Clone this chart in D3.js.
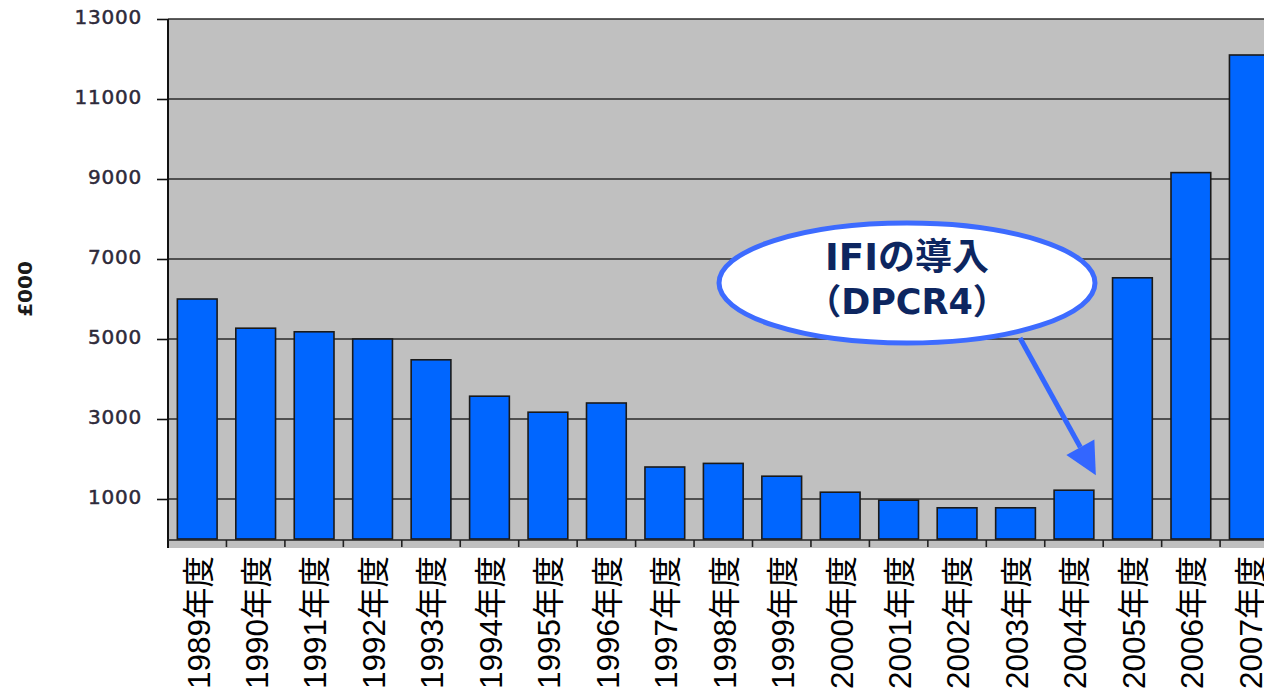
<!DOCTYPE html>
<html>
<head>
<meta charset="utf-8">
<script src="https://cdn.jsdelivr.net/npm/d3@7"></script>
<style>
  html, body { margin: 0; padding: 0; background: #ffffff; }
  svg { display: block; }
</style>
</head>
<body>
<svg id="chart" width="1264" height="692"></svg>
<script>
// ---- data ----
const categories = ["1989年度","1990年度","1991年度","1992年度","1993年度","1994年度","1995年度","1996年度","1997年度","1998年度","1999年度","2000年度","2001年度","2002年度","2003年度","2004年度","2005年度","2006年度","2007年度"];
const values = [6000, 5270, 5180, 5000, 4480, 3570, 3170, 3400, 1800, 1890, 1570, 1170, 970, 780, 780, 1220, 6530, 9160, 12100];
const yTicks = [1000, 3000, 5000, 7000, 9000, 11000, 13000];
const yTitle = "£000";
const calloutLines = ["IFIの導入", "（DPCR4）"];
const calloutTarget = "2004年度";

(function () {
// ---- layout ----
const svg = d3.select("#chart");
const plotLeft = 168, plotTop = 19, zeroY = 539, plotBottom = 548;
const band = 58.45;
const x = d3.scaleBand().domain(categories).range([plotLeft, plotLeft + band * categories.length]).paddingInner(0.32).paddingOuter(0.16);
const y = d3.scaleLinear().domain([0, 13000]).range([zeroY, plotTop]);

// plot background
svg.append("rect").attr("x", plotLeft).attr("y", plotTop).attr("width", 1264 - plotLeft).attr("height", plotBottom - plotTop).attr("fill", "#c0c0c0");

// gridlines
svg.append("g").selectAll("line").data(yTicks).join("line")
  .attr("x1", plotLeft).attr("x2", 1264)
  .attr("y1", d => y(d)).attr("y2", d => y(d))
  .attr("stroke", "#2a2a2a").attr("stroke-width", 1.6);

// y axis
const yAxis = d3.axisLeft(y).tickValues(yTicks).tickSize(11).tickPadding(15).tickFormat(d3.format("d"));
const gy = svg.append("g").attr("transform", `translate(${plotLeft},0)`).call(yAxis);
gy.select(".domain").remove();
gy.selectAll(".tick line").attr("stroke", "#111").attr("stroke-width", 1.6);
gy.selectAll(".tick text").attr("font-family", "'DejaVu Sans', Verdana, sans-serif").attr("font-size", 20)
  .attr("fill", "#2e2a3a").attr("stroke", "#2e2a3a").attr("stroke-width", 0.5)
  .attr("dy", "0.2em").attr("letter-spacing", "0.8px");
svg.append("line").attr("x1", plotLeft).attr("x2", plotLeft).attr("y1", plotTop).attr("y2", plotBottom)
  .attr("stroke", "#111").attr("stroke-width", 2);

// bars
svg.append("g").selectAll("rect").data(values).join("rect")
  .attr("x", (d, i) => x(categories[i]))
  .attr("y", d => y(d))
  .attr("width", x.bandwidth())
  .attr("height", d => zeroY - y(d))
  .attr("fill", "#0066ff")
  .attr("stroke", "#1a1a1a").attr("stroke-width", 1.6);

// x axis
svg.append("line").attr("x1", plotLeft).attr("x2", 1264).attr("y1", zeroY + 1).attr("y2", zeroY + 1)
  .attr("stroke", "#222").attr("stroke-width", 1.6);
const boundaries = categories.map((c, i) => plotLeft + band * (i + 1));
svg.append("g").selectAll("line").data(boundaries).join("line")
  .attr("x1", d => d).attr("x2", d => d).attr("y1", zeroY + 1).attr("y2", zeroY + 8)
  .attr("stroke", "#222").attr("stroke-width", 1.6);

// x labels
svg.append("g").selectAll("text").data(categories).join("text")
  .attr("transform", d => `translate(${x(d) + x.bandwidth() / 2 + 1},556) rotate(-90)`)
  .attr("text-anchor", "end")
  .attr("dy", "0.36em")
  .attr("font-family", "'Liberation Sans', Arial, 'Noto Sans CJK JP', sans-serif")
  .attr("font-size", 31.5)
  .attr("fill", "#000")
  .text(d => d);

// y title
svg.append("text")
  .attr("transform", "translate(25,289) rotate(-90)")
  .attr("text-anchor", "middle").attr("dy", "0.36em")
  .attr("font-family", "'DejaVu Sans', Verdana, sans-serif").attr("font-size", 20).attr("font-weight", "bold")
  .attr("fill", "#1a1a1a")
  .text(yTitle);

// callout arrow
const targetIdx = categories.indexOf(calloutTarget);
const tipX = x(calloutTarget) + x.bandwidth() + 2;
const tipY = y(values[targetIdx]) - 15;
const startX = 1020, startY = 338;
const ang = Math.atan2(tipY - startY, tipX - startX);
const headLen = 32, headW = 16;
const baseX = tipX - headLen * Math.cos(ang), baseY = tipY - headLen * Math.sin(ang);
svg.append("line").attr("x1", startX).attr("y1", startY).attr("x2", baseX).attr("y2", baseY)
  .attr("stroke", "#3366ff").attr("stroke-width", 5);
svg.append("path")
  .attr("d", d3.line()([
    [tipX, tipY],
    [baseX + headW * Math.sin(ang), baseY - headW * Math.cos(ang)],
    [baseX - headW * Math.sin(ang), baseY + headW * Math.cos(ang)]
  ]) + "Z")
  .attr("fill", "#3366ff");

// callout ellipse
svg.append("ellipse").attr("cx", 907).attr("cy", 283).attr("rx", 188).attr("ry", 60)
  .attr("fill", "#ffffff").attr("stroke", "#3d6bff").attr("stroke-width", 5);
svg.append("g").selectAll("text").data(calloutLines).join("text")
  .attr("x", 907).attr("y", (d, i) => 270 + i * 44)
  .attr("text-anchor", "middle")
  .attr("font-family", "'DejaVu Sans', 'Noto Sans CJK JP', sans-serif")
  .attr("font-weight", "bold").attr("font-size", (d, i) => i === 0 ? 37 : 35)
  .attr("fill", "#0d2660")
  .text(d => d);
})();
</script>
</body>
</html>
